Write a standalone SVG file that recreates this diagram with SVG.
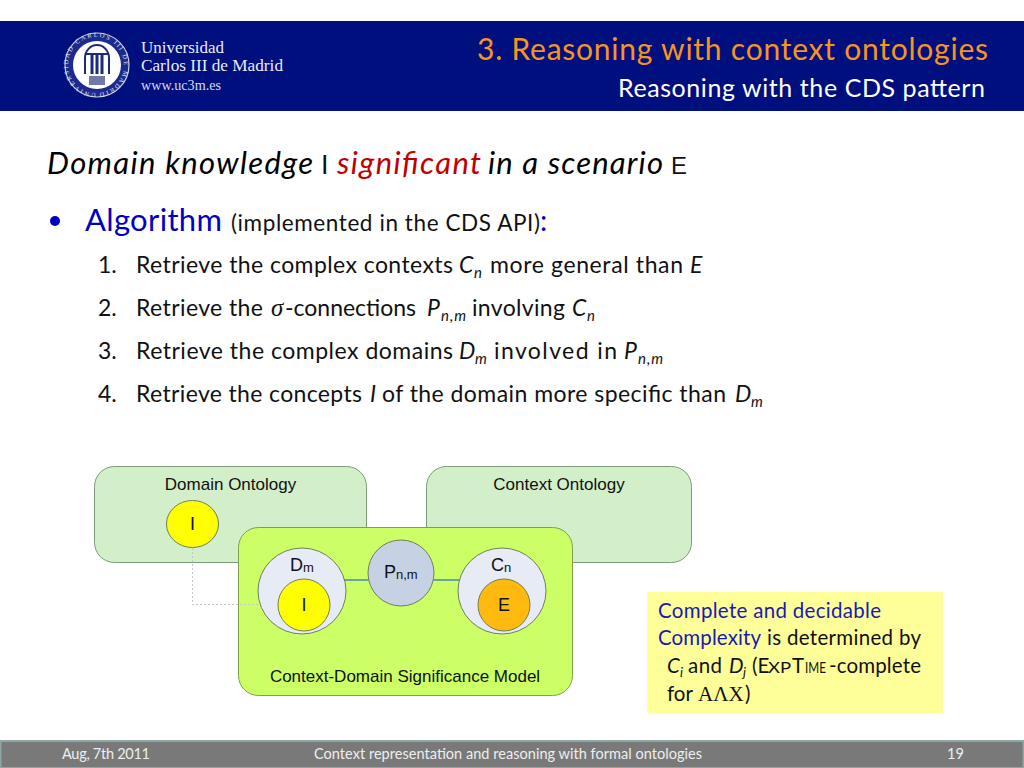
<svg xmlns="http://www.w3.org/2000/svg" width="1024" height="768" viewBox="0 0 1024 768">
<style>
.c{font-family:"Lato","Open Sans","Noto Sans",sans-serif}
.a{font-family:"Liberation Sans",Arial,sans-serif;font-size:17px;fill:#111;text-anchor:middle}
.big{font-size:18px}
.st{text-anchor:start}
.s{font-family:"Liberation Serif","Times New Roman",serif}
.b{font-size:23px;fill:#111}
.i{font-style:italic}
.sub{font-size:15px;font-style:italic}
.blue{fill:#0000c0}
.nb{fill:#1a1ab0}
.node{stroke:#6e7f5a;stroke-width:1}
.grp{stroke:#7d9b78;stroke-width:1}
</style>
<defs><path id="ring" d="M96 93A28 28 0 1 1 96.010 93"/></defs>
<rect width="1024" height="768" fill="#fff"/>
<g id="header">
<rect x="0" y="21" width="1024" height="90" fill="#000f7e"/>
<circle cx="97" cy="65" r="32" fill="#1b2a8c" stroke="#c8cde6" stroke-width="1.200"/>
<circle cx="97" cy="65" r="24" fill="#fff"/>
<path d="M85 74V58A12 13 0 0 1 109 58V74" fill="none" stroke="#1b2a7e" stroke-width="2"/>
<path d="M92 55V74M97 55V74M102 55V74" stroke="#1b2a7e" stroke-width="3"/>
<path d="M86 54H108" stroke="#1b2a7e" stroke-width="2"/>
<rect x="89" y="76" width="16" height="9" fill="#6f79ab"/>
<text class="s" font-size="6.500" fill="#dfe3f2" textLength="172"><textPath href="#ring">UNIVERSIDAD CARLOS III DE MADRID</textPath></text>
<text x="141" y="53" class="s" font-size="16" fill="#e8ebf6" textLength="83" lengthAdjust="spacingAndGlyphs">Universidad</text>
<text x="141" y="71" class="s" font-size="16" fill="#e8ebf6" textLength="142" lengthAdjust="spacingAndGlyphs">Carlos III de Madrid</text>
<text x="141" y="90" class="s" font-size="15" fill="#d6daec" textLength="80" lengthAdjust="spacingAndGlyphs">www.uc3m.es</text>
<text x="477" y="60" class="c" font-size="30" fill="#f7941e" textLength="511">3. Reasoning with context ontologies</text>
<text x="618" y="97" class="c" font-size="25" fill="#fff" textLength="367">Reasoning with the CDS pattern</text>
</g>
<g id="content" class="c">
<text y="174" font-size="31" fill="#000"><tspan x="47" class="i" textLength="266">Domain knowledge</tspan><tspan x="337" class="i" fill="#c00000" textLength="144">significant</tspan><tspan x="488" class="i" textLength="175">in a scenario</tspan></text>
<text x="321" y="174" font-size="27" fill="#111" font-family="Liberation Sans, sans-serif">I</text>
<text x="671" y="174" font-size="24" fill="#111" font-family="Liberation Sans, sans-serif">E</text>
<circle cx="55" cy="221" r="5" fill="#0000c0"/>
<text y="231" font-size="31" class="blue" x="85" textLength="137">Algorithm</text>
<text x="231" y="231" font-size="22.500" fill="#111" textLength="309">(implemented in the CDS API)</text>
<text x="540" y="231" font-size="29" class="blue">:</text>

<text y="273" class="b"><tspan x="98">1.</tspan><tspan x="136" textLength="317">Retrieve the complex contexts</tspan><tspan x="459" class="i">C</tspan><tspan x="474" y="278" class="sub">n</tspan><tspan x="490" y="273" textLength="193">more general than</tspan><tspan x="690" class="i">E</tspan></text>

<text y="316" class="b"><tspan x="98">2.</tspan><tspan x="136" textLength="127">Retrieve the</tspan></text>
<text x="271" y="316" class="s i" font-size="25" fill="#111">σ</text>
<text y="316" class="b"><tspan x="285" textLength="131">-connections</tspan><tspan x="427" class="i">P</tspan><tspan x="441" y="321" class="sub" textLength="25">n,m</tspan><tspan x="472" y="316" textLength="93">involving</tspan><tspan x="572" class="i">C</tspan><tspan x="587" y="321" class="sub">n</tspan></text>

<text y="359" class="b"><tspan x="98">3.</tspan><tspan x="136" textLength="317">Retrieve the complex domains</tspan><tspan x="459" class="i">D</tspan><tspan x="475" y="364" class="sub">m</tspan><tspan x="494" y="359" textLength="123">involved in</tspan><tspan x="624" class="i">P</tspan><tspan x="638" y="364" class="sub" textLength="25">n,m</tspan></text>

<text y="402" class="b"><tspan x="98">4.</tspan><tspan x="136" textLength="226">Retrieve the concepts</tspan><tspan x="370" class="i">I</tspan><tspan x="382" textLength="344">of the domain more specific than</tspan><tspan x="735" class="i">D</tspan><tspan x="751" y="407" class="sub">m</tspan></text>
</g>
<g id="domain-ontology">
<rect x="94.500" y="466.500" width="272" height="96" rx="20" fill="#d2efca" class="grp"/>
<text x="230.500" y="490" class="a">Domain Ontology</text>
</g>
<g id="context-ontology">
<rect x="426.500" y="466.500" width="265" height="96" rx="20" fill="#d2efca" class="grp"/>
<text x="559" y="490" class="a">Context Ontology</text>
</g>
<g id="cds-model">
<rect x="238.500" y="527.500" width="334" height="168" rx="20" fill="#ccff66" stroke="#7f9f50"/>
<text x="405" y="682" class="a">Context-Domain Significance Model</text>
</g>
<g id="connectors" fill="none">
<path d="M343 580H369M431 580H459" stroke="#4f81bd" stroke-width="1.500"/>
<path d="M192.500 548V604.500H274" stroke="#c0c8ce" stroke-width="1" stroke-dasharray="2 2"/>
</g>
<g id="node-i-domain">
<ellipse cx="192.500" cy="524" rx="26" ry="23.500" fill="#ffff00" class="node"/>
<text x="192.500" y="530" class="a big">I</text>
</g>
<g id="node-dm">
<ellipse cx="302" cy="591" rx="44" ry="43" fill="#e6ebf5" class="node"/>
<text x="290" y="571" class="a big st">D<tspan font-size="13" dy="1">m</tspan></text>
</g>
<g id="node-i-cds">
<circle cx="304" cy="605" r="26" fill="#ffff00" class="node"/>
<text x="304" y="611" class="a big">I</text>
</g>
<g id="node-pnm">
<circle cx="401" cy="573" r="33" fill="#c6d2e4" class="node"/>
<text x="384" y="578" class="a big st">P<tspan font-size="13" dy="1">n,m</tspan></text>
</g>
<g id="node-cn">
<ellipse cx="502" cy="591" rx="44" ry="43" fill="#e6ebf5" class="node"/>
<text x="491" y="571" class="a big st">C<tspan font-size="13" dy="1">n</tspan></text>
</g>
<g id="node-e">
<circle cx="504" cy="605" r="26" fill="#ffb90f" class="node"/>
<text x="504" y="611" class="a big">E</text>
</g>
<g id="note" class="c">
<rect x="647" y="592" width="296" height="121" fill="#ffff99"/>
<text x="658" y="618" font-size="20.500" class="nb" textLength="223">Complete and decidable</text>
<text y="645" font-size="20.500" fill="#111"><tspan x="658" textLength="103" class="nb">Complexity</tspan><tspan x="767" textLength="154">is determined by</tspan></text>
<text y="673" font-size="20.500" fill="#111"><tspan x="667" class="i">C</tspan><tspan x="680" y="677" font-size="13" class="i">i</tspan><tspan x="688" y="673" textLength="34">and</tspan><tspan x="729" class="i">D</tspan><tspan x="743" y="677" font-size="13" class="i">j</tspan><tspan x="752" y="673">(E</tspan><tspan font-size="16" x="768" textLength="23" lengthAdjust="spacingAndGlyphs">XP</tspan><tspan x="792">T</tspan><tspan font-size="16" x="805" textLength="21" lengthAdjust="spacingAndGlyphs">IME</tspan><tspan x="829" textLength="92">-complete</tspan></text>
<text y="701" font-size="20.500" fill="#111"><tspan x="667">for</tspan></text>
<text x="698" y="701" class="s" font-size="21" fill="#111">ΑΛΧ</text>
<text x="745" y="701" font-size="20.500" fill="#111">)</text>
</g>
<g id="footer" class="c">
<rect x="0.500" y="741" width="1023" height="27" fill="#797979" stroke="#8ea6a6" stroke-width="2"/>
<text x="62" y="759" font-size="14.500" fill="#eee" textLength="88">Aug, 7th 2011</text>
<text x="314" y="759" font-size="14.500" fill="#eee" textLength="388">Context representation and reasoning with formal ontologies</text>
<text x="947" y="759" font-size="14.500" fill="#eee">19</text>
</g>
</svg>
